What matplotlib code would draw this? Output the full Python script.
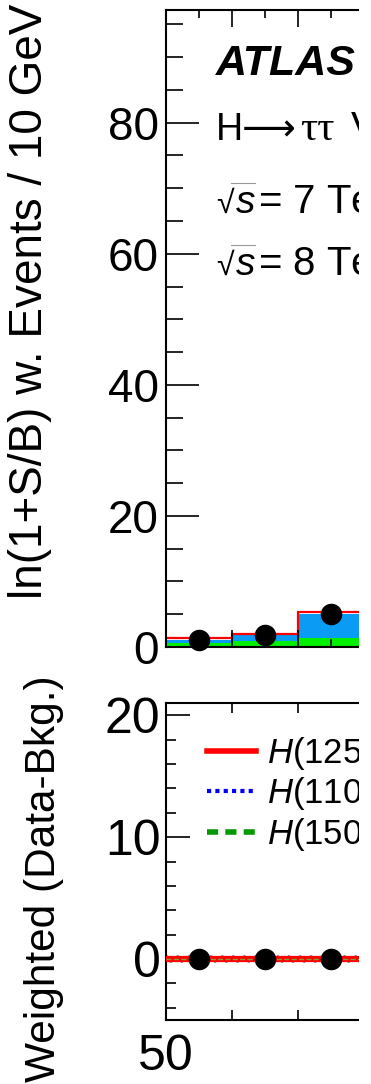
import numpy as np
import matplotlib
matplotlib.use("Agg")
import matplotlib.pyplot as plt
from matplotlib.ticker import MultipleLocator, NullFormatter
from matplotlib.lines import Line2D
from matplotlib.patches import Rectangle

plt.rcParams["font.family"] = ["Liberation Sans", "DejaVu Sans"]
plt.rcParams["mathtext.fontset"] = "custom"
plt.rcParams["mathtext.rm"] = "Liberation Sans"
plt.rcParams["mathtext.it"] = "Liberation Sans:italic"
plt.rcParams["mathtext.bf"] = "Liberation Sans:bold"

# ---- data: m_tautau bins (GeV) ----
bin_edges = [50, 60, 70, 80]
bin_centers = [55, 65, 75]

# weighted stack, top panel
other_bkg = np.array([0.66, 0.87, 1.30])      # green
ztautau = np.array([0.44, 0.93, 3.80])        # blue
signal = np.array([0.20, 0.20, 0.20])         # red outline on top
data_w = np.array([1.1, 1.9, 5.0])

# bottom panel: weighted data - background
diff_data = np.array([0.0, 0.0, 0.0])
h125 = np.array([0.0, 0.0, 0.0])
h110 = np.array([0.0, 0.0, 0.0])
h150 = np.array([0.0, 0.0, 0.0])
band_unc = np.array([0.3, 0.3, 0.3])

legend_labels = [r"$H$(125) $\mu$=1.4", r"$H$(110) $\mu$=1.6", r"$H$(150) $\mu$=5.9"]

W, H = 371, 1084
fig = plt.figure(figsize=(W / 100, H / 100), dpi=100)


def fx(x):
    return x / W


def fy(y):
    return 1 - y / H


x_left, x_right = 166, 359
gev_per_px = 10 / 66.0
xmax = 50 + (x_right - x_left) * gev_per_px

# ---------------- top panel ----------------
ax1 = fig.add_axes([fx(x_left), fy(647), fx(x_right) - fx(x_left), (647 - 10) / H])
ax1.set_xlim(50, xmax)
ax1.set_ylim(0, 97.2)

green_top = other_bkg
blue_top = other_bkg + ztautau
total = blue_top + signal
ax1.stairs(green_top, bin_edges, baseline=0, fill=True, color="#00ee00", lw=0)
ax1.stairs(blue_top, bin_edges, baseline=green_top, fill=True, color="#0a9cf5", lw=0)
ax1.stairs(total, bin_edges, baseline=None, color="#ff0000", lw=1.6)
ax1.plot(bin_centers, data_w, "o", color="black", ms=14.5, zorder=5, clip_on=False)

ax1.xaxis.set_major_locator(MultipleLocator(10))
ax1.xaxis.set_minor_locator(MultipleLocator(5))
ax1.xaxis.set_major_formatter(NullFormatter())
ax1.yaxis.set_major_locator(MultipleLocator(20))
ax1.yaxis.set_minor_locator(MultipleLocator(5))
ax1.tick_params(axis="x", which="major", direction="in", length=12, width=1.2,
                top=True, bottom=True, labelbottom=False)
ax1.tick_params(axis="x", which="minor", direction="in", length=6, width=1.2,
                top=True, bottom=True)
ax1.tick_params(axis="y", which="major", direction="in", length=24, width=1.2,
                labelsize=33, pad=5, right=False)
ax1.tick_params(axis="y", which="minor", direction="in", length=12, width=1.2, right=False)
for s in ("left", "top", "bottom"):
    ax1.spines[s].set_linewidth(1.5)
ax1.spines["right"].set_visible(False)

# ---------------- bottom panel ----------------
ax2 = fig.add_axes([fx(x_left), fy(1020), fx(x_right) - fx(x_left), (1020 - 703) / H])
ax2.set_xlim(50, xmax)
ax2.set_ylim(-5, 21)

ax2.stairs(h125 + band_unc, bin_edges, baseline=h125 - band_unc, fill=True,
           facecolor="none", edgecolor="#888888", hatch="///", lw=0, zorder=1)
ax2.stairs(h110, bin_edges, baseline=None, color="#0000ff", lw=2.5, ls=":", zorder=2)
ax2.stairs(h125, bin_edges, baseline=None, color="#ff0000", lw=4.5, zorder=3)
ax2.stairs(h150, bin_edges, baseline=None, color="#8a9a30", lw=1.0, ls="--", zorder=4)
ax2.plot(bin_centers, diff_data, "o", color="black", ms=14.5, zorder=5)

ax2.xaxis.set_major_locator(MultipleLocator(50))
ax2.xaxis.set_minor_locator(MultipleLocator(10))
ax2.yaxis.set_major_locator(MultipleLocator(10))
ax2.yaxis.set_minor_locator(MultipleLocator(2))
ax2.tick_params(axis="x", which="major", direction="in", length=7, width=1.2,
                top=True, bottom=True, labelsize=36, pad=10)
ax2.tick_params(axis="x", which="minor", direction="in", length=7, width=1.2,
                top=True, bottom=True)
ax2.tick_params(axis="y", which="major", direction="in", length=17, width=1.2,
                labelsize=36, pad=4, right=False)
ax2.tick_params(axis="y", which="minor", direction="in", length=7, width=1.2, right=False)
for s in ("left", "top", "bottom"):
    ax2.spines[s].set_linewidth(1.5)
ax2.spines["right"].set_visible(False)

handles = [
    Line2D([], [], color="#ff0000", lw=4),
    Line2D([], [], color="#0000ff", lw=3, ls=(0, (1, 1))),
    Line2D([], [], color="#009900", lw=4, ls=(0, (2, 1.3))),
]
ax2.legend(handles, legend_labels, loc="upper left",
           bbox_to_anchor=(fx(207), fy(735)), bbox_transform=fig.transFigure,
           frameon=False, fontsize=25, handlelength=1.4, handletextpad=0.32,
           labelspacing=0.1, borderpad=0, borderaxespad=0)

# ---------------- labels and annotations ----------------
fig.text(fx(30), fy(4), "ln(1+S/B) w. Events / 10 GeV", rotation=90,
         ha="center", va="top", fontsize=33)
fig.text(fx(44), fy(675), "Weighted (Data-Bkg.)", rotation=90,
         ha="center", va="top", fontsize=30.5)

fig.text(fx(216), fy(75), "ATLAS", fontsize=31, weight="bold", style="italic",
         va="baseline")
fig.text(fx(216), fy(140), "H\u27f6", fontsize=27, va="baseline",
         family=["Liberation Sans", "DejaVu Sans"])
fig.text(fx(300), fy(140), "\u03c4\u03c4", fontsize=31, va="baseline",
         family=["Liberation Serif", "DejaVu Serif"])
fig.text(fx(351), fy(140), "VBF+Boosted", fontsize=29, va="baseline")

for baseline, energy, lumi in [(213, "7", "4.5"), (275, "8", "20.3")]:
    fig.text(fx(216), fy(baseline), "\u221a", fontsize=23, va="baseline")
    fig.text(fx(236), fy(baseline), "s", fontsize=28, style="italic", va="baseline")
    fig.text(fx(258), fy(baseline),
             "= " + energy + r" TeV, $\int$Ldt = " + lumi + r" fb$^{-1}$",
             fontsize=29, va="baseline")
    # overbar of the square root
    fig.add_artist(Line2D([fx(231), fx(255)], [fy(baseline - 30)] * 2,
                          transform=fig.transFigure, color="#999999", lw=0.8))

# page edge on the right
fig.add_artist(Rectangle((fx(x_right), 0), 1 - fx(x_right), 1,
                         transform=fig.transFigure, facecolor="white",
                         edgecolor="none", zorder=100))

fig.savefig("out.png", dpi=100)
